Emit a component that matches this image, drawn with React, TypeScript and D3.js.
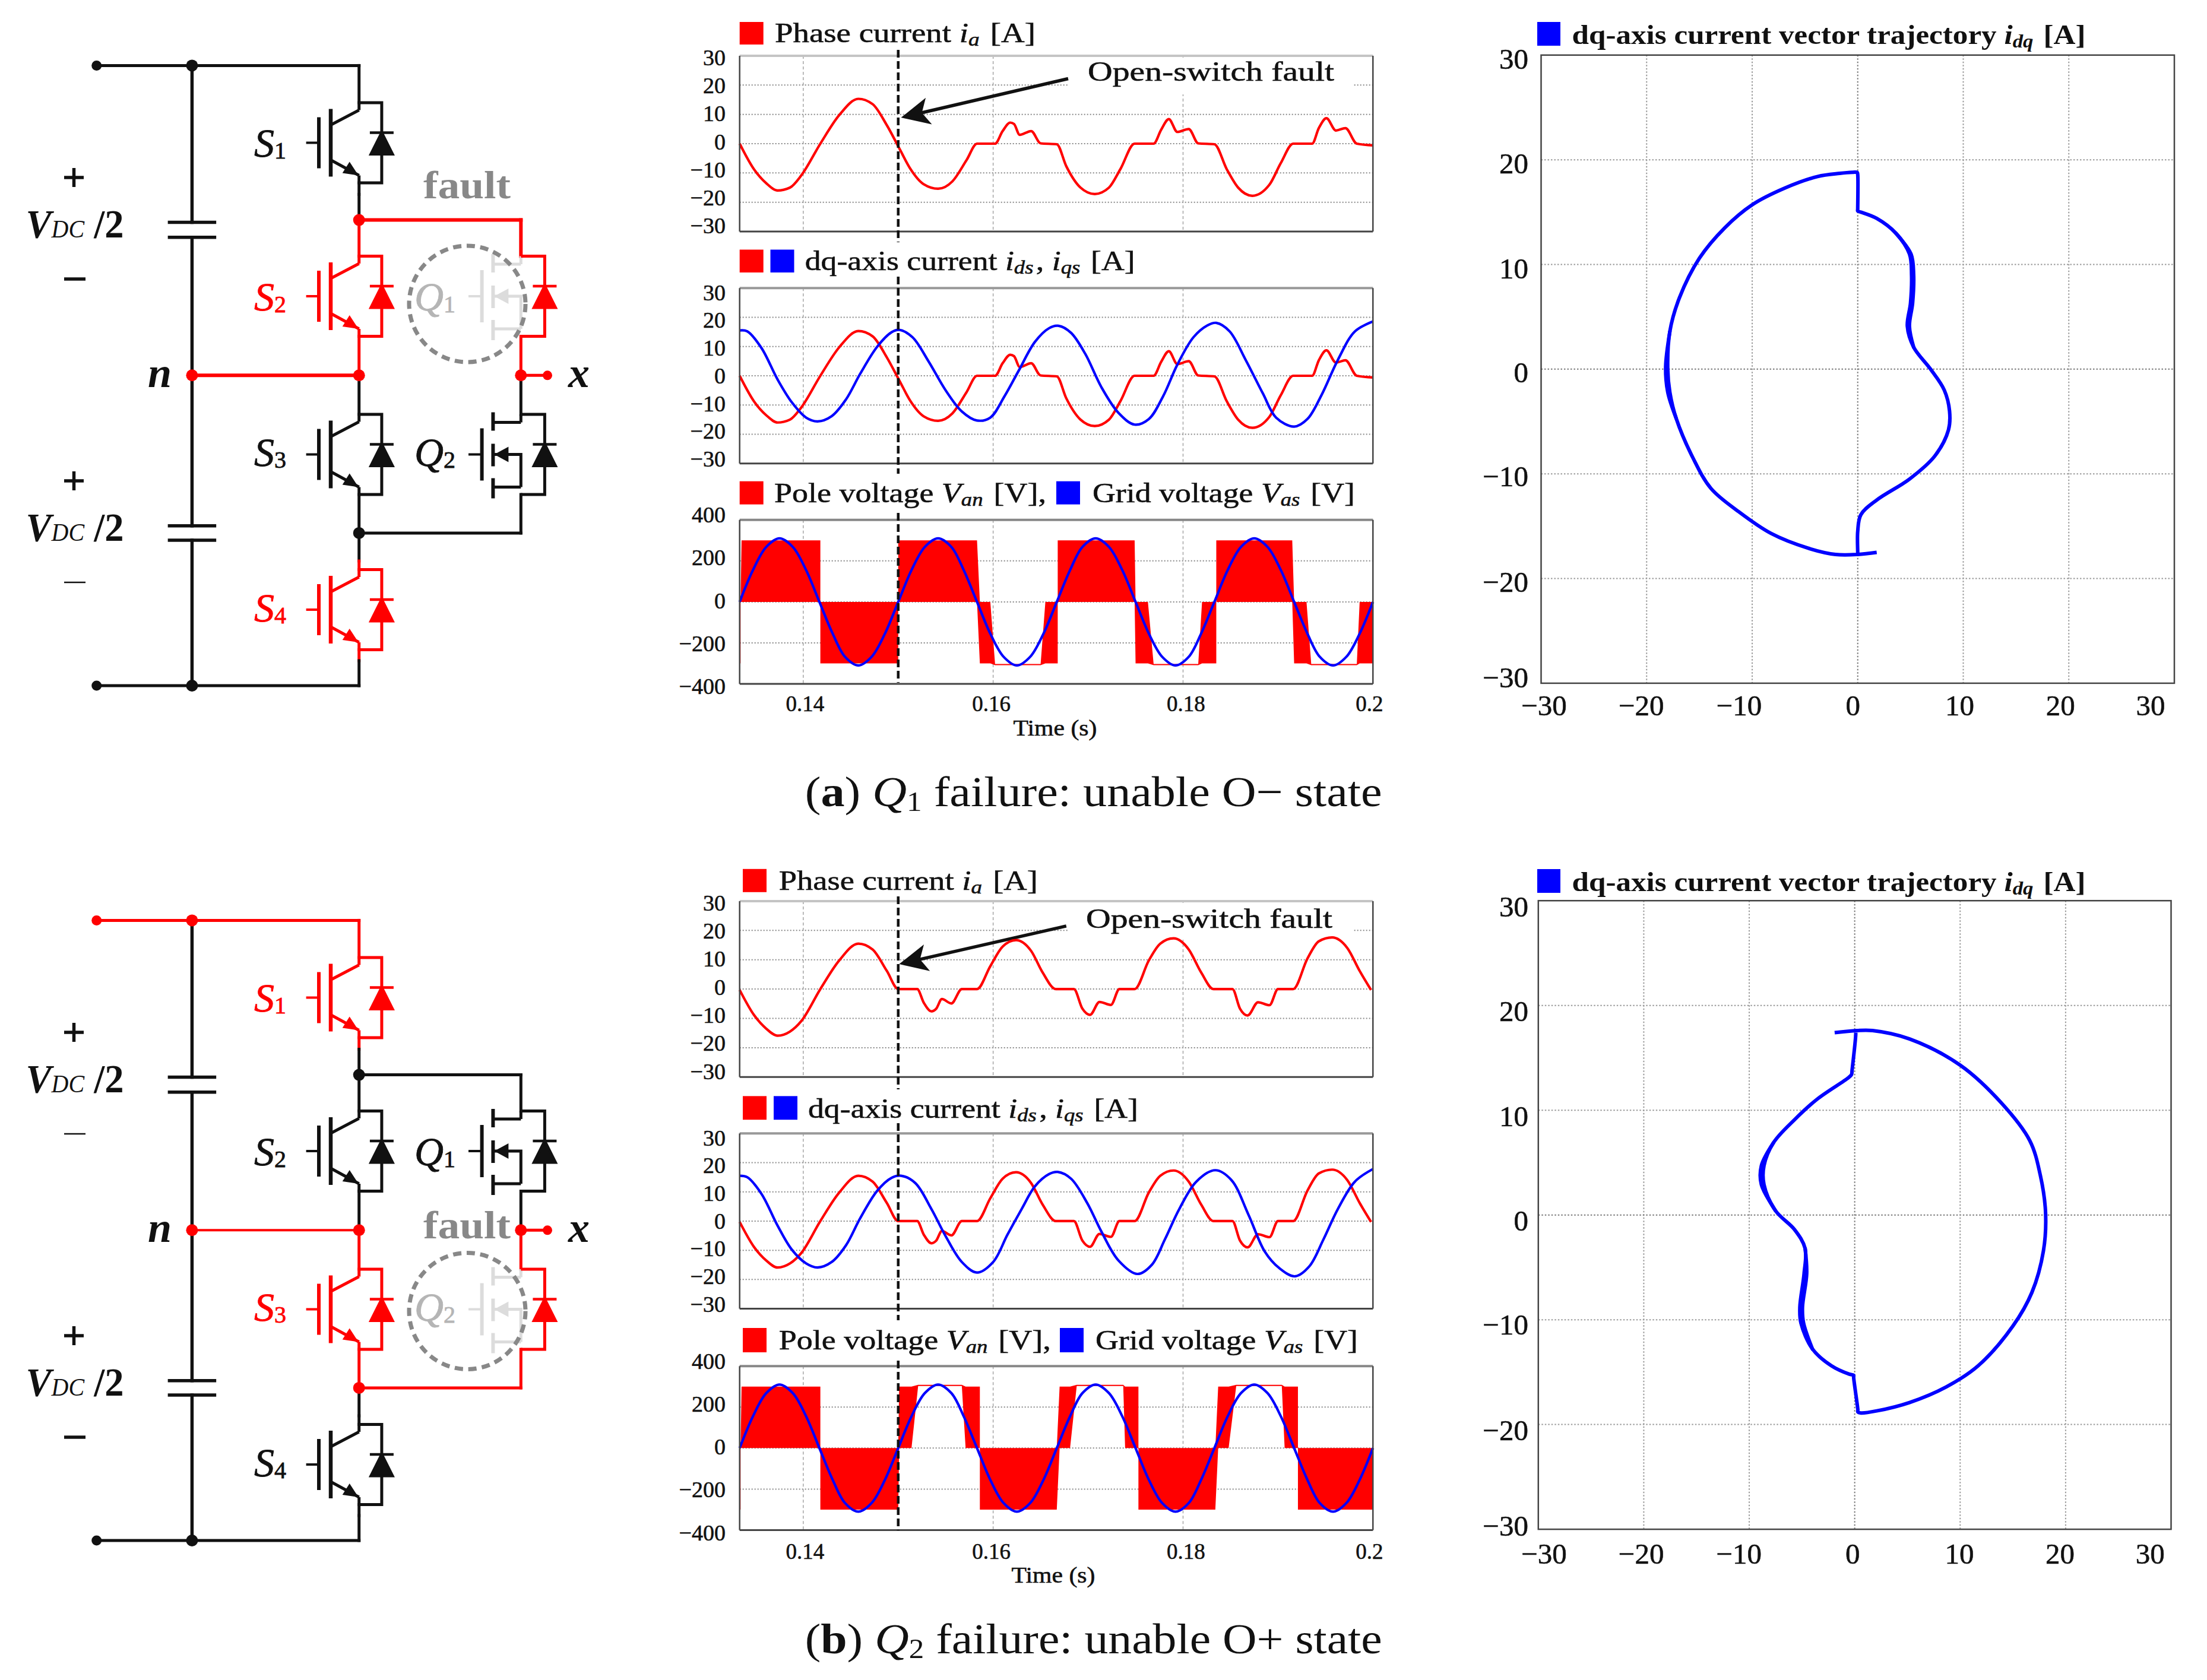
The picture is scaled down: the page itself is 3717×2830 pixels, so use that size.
import * as d3 from 'd3'
import type { ReactNode } from 'react'

const RED = '#ff0000'
const BLUE = '#0000ff'
const BLACK = '#111111'
const FADED = '#dcdcdc'
const SERIF = '"Liberation Serif", serif'

// ---- values ----

const timeTicks = [0.14, 0.16, 0.18, 0.2]
const timeTickLabels = ['0.14', '0.16', '0.18', '0.2']
const timeTickNudge = [3, -3, 5, -6]
const currentTicks = [30, 20, 10, 0, -10, -20, -30]
const voltageTicks = [400, 200, 0, -200, -400]
const vectorTicks = [-30, -20, -10, 0, 10, 20, 30]
const vectorXNudge = [5, -9, -22, -8, -6, -14, -40]
const vectorYNudge = [-10, 5, 4, 5, 6, 5.5, 6]
const faultTime = 0.15

const phaseTimeA = [0.1333, 0.1348, 0.1361, 0.1373, 0.1386, 0.1398, 0.1418, 0.1438, 0.1458, 0.1473, 0.1488, 0.1501, 0.1513, 0.1527, 0.1542, 0.1557, 0.1572, 0.1583, 0.1602, 0.161, 0.1618, 0.1622, 0.1628, 0.164, 0.165, 0.1667, 0.1677, 0.1692, 0.1707, 0.1722, 0.1734, 0.1749, 0.1769, 0.1777, 0.1785, 0.1794, 0.1806, 0.1816, 0.1833, 0.1846, 0.1858, 0.1873, 0.1891, 0.1903, 0.1916, 0.1936, 0.1943, 0.1951, 0.1961, 0.1971, 0.1983, 0.2]
const phaseCurrentA = [0, -8.7, -13.5, -16, -15, -10.8, 0, 9.8, 15.3, 13.5, 6.3, -1.5, -8.7, -13.9, -15.4, -12.9, -5.6, 0, 0, 4.3, 7.2, 6.7, 3, 4.3, 0.1, -0.2, -7.7, -15, -17.2, -15, -8.7, 0, 0, 4.8, 8.4, 4, 5, 0.1, -0.2, -8.7, -15, -17.8, -14, -6.6, 0, 0, 5.3, 8.7, 4.5, 5.3, 0, -0.6]
const iqTimeA = [0.1333, 0.1341, 0.1356, 0.1373, 0.1388, 0.1403, 0.1415, 0.143, 0.1445, 0.146, 0.1478, 0.1493, 0.1501, 0.1515, 0.1532, 0.155, 0.1567, 0.1583, 0.1597, 0.1612, 0.1627, 0.1644, 0.1659, 0.1669, 0.1682, 0.1697, 0.1714, 0.1732, 0.1749, 0.1764, 0.1779, 0.1794, 0.1811, 0.1826, 0.1835, 0.1849, 0.1866, 0.1884, 0.1898, 0.1917, 0.1931, 0.1946, 0.1963, 0.1981, 0.2]
const iqCurrentA = [15.5, 15.2, 9.5, -1.3, -9.1, -14.3, -15.6, -13.8, -8.1, 0.7, 10, 14.9, 15.7, 13.2, 4.9, -5, -12.2, -15.3, -14.3, -7, 1.8, 11.6, 16.3, 17.1, 14.7, 7.5, -3.9, -12.7, -16.7, -14.8, -7, 3.8, 13.2, 17.3, 18.1, 15.2, 5.4, -6, -14.3, -17.4, -14.8, -6.5, 5.4, 15.2, 18.6]

const phaseTimeB = [0.1333, 0.1348, 0.1361, 0.1373, 0.1386, 0.1398, 0.1418, 0.1438, 0.1458, 0.1473, 0.1488, 0.15, 0.152, 0.1527, 0.1535, 0.154, 0.1546, 0.1556, 0.1567, 0.1583, 0.1597, 0.161, 0.1624, 0.164, 0.1652, 0.1666, 0.1685, 0.1694, 0.1702, 0.1712, 0.1724, 0.1733, 0.1749, 0.1764, 0.1776, 0.179, 0.1806, 0.1819, 0.1832, 0.1852, 0.186, 0.1868, 0.1879, 0.1891, 0.19, 0.1916, 0.1931, 0.1943, 0.1957, 0.1973, 0.1986, 0.1998]
const phaseCurrentB = [-0.3, -8.8, -13.5, -15.9, -14.5, -10.9, 0, 9.8, 15.5, 13.5, 6.2, 0, 0, -4.7, -7.6, -6.7, -3.4, -4.9, 0, 0, 7.8, 14.5, 16.7, 13, 5.7, 0, 0, -6.7, -8.8, -4.4, -5.4, 0, 0, 9.8, 15.5, 17.3, 13.5, 5.7, 0, 0, -6.7, -9, -4.5, -5.5, 0, 0, 10.4, 16.3, 17.6, 14, 6.2, -0.3]
const iqTimeB = [0.1333, 0.1341, 0.1356, 0.1373, 0.1388, 0.1403, 0.1415, 0.143, 0.1445, 0.146, 0.1478, 0.1493, 0.1503, 0.1518, 0.1535, 0.155, 0.1567, 0.1583, 0.16, 0.1615, 0.163, 0.1644, 0.1659, 0.1668, 0.1682, 0.1699, 0.1714, 0.1732, 0.1752, 0.1767, 0.1781, 0.1796, 0.1814, 0.1834, 0.1851, 0.1869, 0.1886, 0.1901, 0.1918, 0.1933, 0.1948, 0.1963, 0.1981, 0.2]
const iqCurrentB = [15.5, 15, 9.3, -1.6, -9.8, -14.5, -15.9, -14, -8.3, 1, 10.4, 14.8, 15.5, 13, 4.1, -5.2, -14, -17.6, -14, -4.7, 4.1, 11.9, 16.1, 16.8, 14.5, 6.2, -3.6, -13.5, -18.1, -15, -6.2, 4.1, 13.5, 17.4, 14, 2.1, -10.4, -16, -18.9, -15.5, -6.2, 4.1, 13.5, 17.8]

const gridTime = [0.1333, 0.1347, 0.1361, 0.1375, 0.1389, 0.1403, 0.1417, 0.1431, 0.1444, 0.1458, 0.1472, 0.1486, 0.15, 0.1514, 0.1528, 0.1542, 0.1556, 0.1569, 0.1583, 0.1597, 0.1611, 0.1625, 0.1639, 0.1653, 0.1667, 0.1681, 0.1694, 0.1708, 0.1722, 0.1736, 0.175, 0.1764, 0.1778, 0.1792, 0.1806, 0.1819, 0.1833, 0.1847, 0.1861, 0.1875, 0.1889, 0.1903, 0.1917, 0.1931, 0.1944, 0.1958, 0.1972, 0.1986, 0.2]
const gridVoltage = [0, 155, 268, 310, 268, 155, 0, -155, -268, -310, -268, -155, 0, 155, 268, 310, 268, 155, 0, -155, -268, -310, -268, -155, 0, 155, 268, 310, 268, 155, 0, -155, -268, -310, -268, -155, 0, 155, 268, 310, 268, 155, 0, -155, -268, -310, -268, -155, 0]

const poleTimeA = [0.1333, 0.1334, 0.1334, 0.1335, 0.1418, 0.1418, 0.15, 0.15, 0.1583, 0.1586, 0.1597, 0.1602, 0.165, 0.1655, 0.1668, 0.1668, 0.1749, 0.175, 0.1763, 0.1769, 0.1816, 0.182, 0.1835, 0.1835, 0.1915, 0.1917, 0.193, 0.1935, 0.1983, 0.1986, 0.2]
const poleHighA = [0, 0, 0, 300, 300, 0, 0, 300, 300, 0, 0, -303, -303, 0, 0, 300, 300, 0, 0, -303, -303, 0, 0, 300, 300, 0, 0, -303, -303, 0, 0]
const poleLowA = [-300, -300, 0, 0, 0, -300, -300, 0, 0, -300, -300, -309, -309, -300, -300, 0, 0, -300, -300, -309, -309, -300, -300, 0, 0, -300, -300, -309, -309, -300, -300]
const poleTimeB = [0.1333, 0.1334, 0.1334, 0.1335, 0.1418, 0.1418, 0.15, 0.1501, 0.1514, 0.1521, 0.1567, 0.1571, 0.1586, 0.1586, 0.1667, 0.167, 0.1681, 0.1688, 0.1737, 0.1739, 0.1753, 0.1753, 0.1834, 0.1837, 0.1848, 0.1856, 0.1904, 0.1907, 0.1921, 0.1921, 0.2]
const poleHighB = [0, 0, 0, 300, 300, 0, 0, 300, 300, 309, 309, 300, 300, 0, 0, 300, 300, 309, 309, 300, 300, 0, 0, 300, 300, 309, 309, 300, 300, 0, 0]
const poleLowB = [-300, -300, 0, 0, 0, -300, -300, 0, 0, 303, 303, 0, 0, -300, -300, 0, 0, 303, 303, 0, 0, -300, -300, 0, 0, 303, 303, 0, 0, -300, -300]

const vectorXA = [1.8, 0, -2.1, -4.7, -8.2, -11.3, -13.9, -15.6, -17.2, -17.8, -18, -17.8, -16.9, -15, -12.6, -10, -6.9, -3.8, -1.7, -0.5, -0.05, 0, 0, 0, 0.3, 1.8, 3.6, 4.9, 5.1, 5, 4.7, 5.3, 6.9, 8.2, 8.7, 8.6, 7.3, 4.9, 1.8, 0.3, 0, 0, 0]
const vectorYA = [-17.5, -17.7, -17.7, -17.1, -15.7, -13.6, -11.4, -8.5, -4.7, -2.2, 0, 3.6, 6.8, 10.6, 13.5, 15.7, 17.3, 18.4, 18.7, 18.8, 18.8, 18.6, 15.3, 15.1, 15, 14.4, 13, 11, 9, 6.3, 4.1, 2.1, 0, -2, -4, -5.8, -8.3, -10.5, -12.5, -13.9, -15.5, -17.5, -17.7]
const bundleXA1 = [3.6, 5.05, 5.3, 5.2, 4.9, 5.3]
const bundleYA1 = [13, 11, 9, 6.3, 4.1, 2.1]
const bundleXA2 = [-17.2, -18, -18.2, -17.8]
const bundleYA2 = [-4.7, -2.2, 0.2, 3.6]
const vectorXB = [-1.9, 0.2, 1.7, 5.2, 10, 13.9, 16.6, 17.6, 18.1, 17.9, 16.8, 15, 11.7, 8.7, 5.2, 2.1, 0.6, 0.3, 0.3, -0.1, -0.1, -0.5, -2.2, -4, -5.1, -5.2, -4.8, -4.7, -5.7, -7.5, -8.6, -8.6, -7.7, -5.7, -3.5, -0.6, -0.3, -0.25, 0.1, 0.1]
const vectorYB = [17.4, 17.6, 17.6, 16.8, 14.3, 10.7, 7.1, 3.8, 0.2, -3.4, -7.4, -10.6, -14.4, -16.4, -17.9, -18.7, -18.9, -18.8, -18.6, -15.5, -15.3, -15.2, -14.4, -12.8, -10.3, -8.8, -5.6, -3.2, -1.4, 0.4, 2.9, 4.7, 6.9, 9.1, 11.1, 13.1, 13.4, 13.8, 17.2, 17.4]
const bundleXB1 = [-4.7, -4.55, -4.95, -4.85, -4]
const bundleYB1 = [-3.2, -5.6, -8.8, -10.3, -12.8]
const bundleXB2 = [-7.5, -8.85, -8.85, -7.7]
const bundleYB2 = [0.4, 2.9, 4.7, 6.9]

// ---- layout ----

const timeX = d3.scaleLinear().domain([0.1333, 0.2]).range([1245.7, 2312.3])

const sub = (s: string, d = 6) => (
  <>
    <tspan fontStyle="italic" fontSize="0.68em" dy={d}>{s}</tspan>
    <tspan dy={-d}>{'\u200a'}</tspan>
  </>
)

function Squares({ xs, y, h, colors }: { xs: number[]; y: number; h: number; colors: string[] }) {
  return <>{xs.map((x, i) => <rect key={i} x={x} y={y} width={40} height={h} fill={colors[i]} />)}</>
}

function Label({ x, y, w, size = 47, weight, children }: { x: number; y: number; w: number; size?: number; weight?: string; children: ReactNode }) {
  return (
    <text x={x} y={y} fontFamily={SERIF} fontSize={size} fontWeight={weight} fill={BLACK} stroke={BLACK} strokeWidth={weight ? 0 : 0.6} textLength={w} lengthAdjust="spacingAndGlyphs" xmlSpace="preserve">
      {children}
    </text>
  )
}

interface PlotProps {
  top: number
  bottom: number
  domain: [number, number]
  ticks: number[]
  inset: [number, number]
  edge?: string
  children: ReactNode
}

function TimePlot({ top, bottom, domain, ticks, inset, edge = '#444', children }: PlotProps) {
  const y = d3.scaleLinear().domain(domain).range([bottom, top])
  const labelY = d3.scaleLinear().domain(domain).range([bottom + inset[1], top + inset[0]])
  const [x0, x1] = timeX.range()
  return (
    <g>
      {ticks.slice(1, -1).map((t) => (
        <line key={t} x1={x0} x2={x1} y1={y(t)} y2={y(t)} stroke="#888" strokeWidth={2} strokeDasharray="2 3" />
      ))}
      {timeTicks.slice(0, 3).map((t) => (
        <line key={t} x1={timeX(t)} x2={timeX(t)} y1={top} y2={bottom} stroke="#aaa" strokeWidth={1.6} strokeDasharray="5 4" />
      ))}
      {children}
      <line x1={x0} x2={x1} y1={top} y2={top} stroke={edge} strokeWidth={4} />
      <line x1={x0} x2={x1} y1={bottom} y2={bottom} stroke="#444" strokeWidth={3} />
      <line x1={x0} x2={x0} y1={top} y2={bottom} stroke="#444" strokeWidth={2.5} />
      <line x1={x1} x2={x1} y1={top} y2={bottom} stroke="#444" strokeWidth={2.5} />
      {ticks.map((t) => (
        <text key={t} x={1222} y={labelY(t)} dy="0.35em" textAnchor="end" fontFamily={SERIF} fontSize={38} fill={BLACK} stroke={BLACK} strokeWidth={0.6}>
          {String(t).replace('-', '\u2212')}
        </text>
      ))}
    </g>
  )
}

function series(xs: number[], ys: number[], x: (v: number) => number, y: (v: number) => number, curve: d3.CurveFactory) {
  const line = d3.line<number>().x((i) => x(xs[i])).y((i) => y(ys[i])).curve(curve)
  return line(d3.range(xs.length)) ?? ''
}

function Wave({ xs, ys, top, bottom, domain, color, curve = d3.curveMonotoneX }: { xs: number[]; ys: number[]; top: number; bottom: number; domain: [number, number]; color: string; curve?: d3.CurveFactory }) {
  const y = d3.scaleLinear().domain(domain).range([bottom, top])
  return <path d={series(xs, ys, timeX, y, curve)} fill="none" stroke={color} strokeWidth={4.2} />
}

function PoleBand({ xs, hi, lo, top, bottom }: { xs: number[]; hi: number[]; lo: number[]; top: number; bottom: number }) {
  const y = d3.scaleLinear().domain([-400, 400]).range([bottom, top])
  const area = d3.area<number>().x((i) => timeX(xs[i])).y0((i) => y(lo[i])).y1((i) => y(hi[i]))
  return <path d={area(d3.range(xs.length)) ?? ''} fill={RED} />
}

function FaultArrow({ top, bottom, tail, tip }: { top: number; bottom: number; tail: [number, number]; tip: [number, number] }) {
  const y = d3.scaleLinear().domain([-30, 30]).range([bottom, top])
  const [ax, ay] = [timeX(tail[0]), y(tail[1])]
  const [bx, by] = [timeX(tip[0]), y(tip[1])]
  const len = Math.hypot(ax - bx, ay - by)
  const [ux, uy] = [(ax - bx) / len, (ay - by) / len]
  const at = (along: number, side: number) => `${bx + ux * along - uy * side},${by + uy * along + ux * side}`
  return (
    <g>
      <rect x={1800} y={top + 3} width={478} height={62} fill="#fff" />
      <line x1={ax} y1={ay} x2={bx + ux * 30} y2={by + uy * 30} stroke={BLACK} strokeWidth={5.5} />
      <polygon points={[at(0, 0), at(48, 23), at(36, 0), at(48, -23)].join(' ')} fill={BLACK} />
    </g>
  )
}

function Fault({ spans }: { spans: [number, number][] }) {
  return (
    <>
      {spans.map(([a, b], i) => (
        <line key={i} x1={timeX(faultTime)} x2={timeX(faultTime)} y1={a} y2={b} stroke={BLACK} strokeWidth={4.5} strokeDasharray="13 6" />
      ))}
    </>
  )
}

function XTicks({ y, title, titleX, titleY }: { y: number; title: string; titleX: number; titleY: number }) {
  return (
    <g stroke={BLACK} strokeWidth={0.6}>
      {timeTicks.map((t, i) => (
        <text key={t} x={timeX(t) + timeTickNudge[i]} y={y} textAnchor="middle" fontFamily={SERIF} fontSize={37} fill={BLACK}>
          {timeTickLabels[i]}
        </text>
      ))}
      <text x={titleX} y={titleY} textAnchor="middle" fontFamily={SERIF} fontSize={37} fill={BLACK} textLength={141} lengthAdjust="spacingAndGlyphs">
        {title}
      </text>
    </g>
  )
}

function VectorPlot({ left, right, top, bottom, xs, ys, bundles, legendY, labelY, nudge }: { left: number; right: number; top: number; bottom: number; xs: number[]; ys: number[]; bundles: [number[], number[]][]; legendY: number; labelY: number; nudge: [number, number] }) {
  const x = d3.scaleLinear().domain([-30, 30]).range([left, right])
  const y = d3.scaleLinear().domain([-30, 30]).range([bottom, top])
  const curve = d3.curveCatmullRom.alpha(0.5)
  return (
    <g>
      <rect x={2589} y={legendY} width={39} height={40} fill={BLUE} />
      <Label x={2647.5} y={legendY + 37} w={865} size={47} weight="bold">
        dq-axis current vector trajectory <tspan fontStyle="italic">i</tspan>{sub('dq')}{' [A]'}
      </Label>
      {vectorTicks.slice(1, -1).map((t) => (
        <g key={t} stroke={t === 0 ? '#777' : '#999'} strokeWidth={2} strokeDasharray="2.5 3">
          <line x1={x(t)} x2={x(t)} y1={top} y2={bottom} />
          <line x1={left} x2={right} y1={y(t)} y2={y(t)} />
        </g>
      ))}
      <path d={series(xs, ys, x, y, curve)} fill="none" stroke={BLUE} strokeWidth={6} strokeLinejoin="round" />
      {bundles.map(([bx, by], i) => (
        <path key={i} d={series(bx, by, x, y, curve)} fill="none" stroke={BLUE} strokeWidth={6} strokeLinecap="round" />
      ))}
      <rect x={left} y={top} width={right - left} height={bottom - top} fill="none" stroke="#444" strokeWidth={2.5} />
      {vectorTicks.map((t, i) => (
        <g key={t} fontFamily={SERIF} fontSize={49} fill={BLACK} stroke={BLACK} strokeWidth={0.6}>
          <text x={x(t) + vectorXNudge[i] + nudge[0]} y={labelY} textAnchor="middle">{String(t).replace('-', '\u2212')}</text>
          <text x={2574} y={y(t) + vectorYNudge[i] + nudge[1]} dy="0.35em" textAnchor="end">{String(t).replace('-', '\u2212')}</text>
        </g>
      ))}
    </g>
  )
}

// ---- circuit ----

const swX = 604.7
const rightX = 877.3

function Diode({ x, cy, color }: { x: number; cy: number; color: string }) {
  return (
    <g>
      <line x1={x - 20} x2={x + 20} y1={cy - 17} y2={cy - 17} stroke={color} strokeWidth={4.5} />
      <polygon points={`${x},${cy - 17} ${x - 18},${cy + 19} ${x + 18},${cy + 19}`} fill={color} />
    </g>
  )
}

function Igbt({ cy, color }: { cy: number; color: string }) {
  const d = 642.9
  return (
    <g stroke={color} strokeWidth={5} fill="none">
      <line x1={515.6} x2={537} y1={cy} y2={cy} strokeWidth={4} />
      <line x1={537} x2={537} y1={cy - 43} y2={cy + 43} strokeWidth={6} />
      <line x1={557} x2={557} y1={cy - 57} y2={cy + 57} strokeWidth={6.5} />
      <line x1={557} y1={cy - 30} x2={swX} y2={cy - 55} />
      <line x1={557} y1={cy + 29} x2={swX} y2={cy + 55} />
      <polygon points={`${swX - 1},${cy + 55} ${swX - 28},${cy + 51} ${swX - 16},${cy + 32}`} fill={color} stroke="none" />
      <polyline points={`${swX},${cy - 55} ${swX},${cy - 67.5} ${d},${cy - 67.5} ${d},${cy + 67.5} ${swX},${cy + 67.5} ${swX},${cy + 55}`} />
      <Diode x={d} cy={cy} color={color} />
    </g>
  )
}

function Mosfet({ cy, color, diode }: { cy: number; color: string; diode: string }) {
  const c = 830.4
  const d = 917.4
  return (
    <g fill="none" strokeWidth={5}>
      <g stroke={color}>
        <line x1={789} x2={811.6} y1={cy} y2={cy} strokeWidth={4} />
        <line x1={811.6} x2={811.6} y1={cy - 44} y2={cy + 44} strokeWidth={6} />
        <line x1={c} x2={c} y1={cy - 71} y2={cy - 40} strokeWidth={6} />
        <line x1={c} x2={c} y1={cy - 18} y2={cy + 20} strokeWidth={6} />
        <line x1={c} x2={c} y1={cy + 40} y2={cy + 74} strokeWidth={6} />
        <line x1={c} x2={rightX} y1={cy - 54} y2={cy - 54} />
        <line x1={c} x2={rightX} y1={cy + 55} y2={cy + 55} />
        <polyline points={`${c},${cy} ${rightX},${cy} ${rightX},${cy + 55}`} />
        <line x1={rightX} x2={rightX} y1={cy - 67.5} y2={cy - 54} />
        <polygon points={`${c + 2},${cy} ${c + 26},${cy - 13} ${c + 26},${cy + 13}`} fill={color} stroke="none" />
      </g>
      <g stroke={diode}>
        <polyline points={`${rightX},${cy - 67.5} ${d},${cy - 67.5} ${d},${cy + 67.5} ${rightX},${cy + 67.5}`} />
        <Diode x={d} cy={cy} color={diode} />
      </g>
    </g>
  )
}

function Device({ x, y, letter, index, color }: { x: number; y: number; letter: string; index: string; color: string }) {
  return (
    <text x={x} y={y} fontFamily={SERIF} fontSize={68} fill={color} stroke={color} strokeWidth={0.8}>
      <tspan fontStyle="italic">{letter}</tspan>
      <tspan fontSize={40} dy={3}>{index}</tspan>
    </text>
  )
}

function DcLabel({ y, sign }: { y: number; sign: number }) {
  const plusY = y - 101
  const minusY = y + 70
  return (
    <g>
      <line x1={108} x2={141} y1={plusY} y2={plusY} stroke={BLACK} strokeWidth={5.5} />
      <line x1={124.5} x2={124.5} y1={plusY - 16} y2={plusY + 16} stroke={BLACK} strokeWidth={5.5} />
      <line x1={108} x2={144} y1={minusY} y2={minusY} stroke={BLACK} strokeWidth={sign} />
      <text x={43.5} y={y} fontFamily={SERIF} fontSize={68} fill={BLACK} textLength={165} lengthAdjust="spacingAndGlyphs">
        <tspan fontStyle="italic" fontWeight="bold">V</tspan>
        <tspan fontStyle="italic" fontSize={42}>DC</tspan>
        <tspan fontWeight="bold"> /2</tspan>
      </text>
    </g>
  )
}

interface Palette {
  rail: string; s1: string; s1Out: string; node1: string; s2In: string; s2: string; s2Out: string; nWidth: number
  s3In: string; s3: string; s3Out: string; node3: string; s4In: string; s4: string; s4Out: string
  rightTop: string; q1: string; q1Diode: string; q1Out: string; q2In: string; q2: string; q2Diode: string; q2Out: string
}

function Circuit({ dy, p, faulty, faultY }: { dy: number; p: Palette; faulty: 1 | 2; faultY: number }) {
  const top = 110.4 + dy
  const node1 = 370.6 + dy
  const n = 632.3 + dy
  const node3 = 897.9 + dy
  const bottom = 1155 + dy
  const [c1, c2, c3, c4] = [240.5 + dy, 499 + dy, 765.5 + dy, 1027 + dy]
  const busX = 323.4
  const wire = (x1: number, y1: number, x2: number, y2: number, color: string, w = 5) => (
    <line x1={x1} y1={y1} x2={x2} y2={y2} stroke={color} strokeWidth={w} strokeLinecap="square" />
  )
  const dot = (x: number, y: number, color: string, r = 10) => <circle cx={x} cy={y} r={r} fill={color} />
  const plate = (y: number) => wire(busX - 38, y, busX + 38, y, BLACK, 5.5)
  const labelColor = (on: string) => (on === RED ? RED : BLACK)
  return (
    <g>
      {wire(busX, top, busX, 374.4 + dy, BLACK, 5.5)}
      {wire(busX, 399.7 + dy, busX, 885.7 + dy, BLACK, 5.5)}
      {wire(busX, 910 + dy, busX, bottom, BLACK, 5.5)}
      {plate(374.4 + dy)}{plate(399.7 + dy)}{plate(885.7 + dy)}{plate(910 + dy)}
      {wire(162.7, top, swX, top, p.rail)}
      {wire(swX, top, swX, c1 - 67.5, p.rail)}
      {wire(162.7, bottom, swX, bottom, BLACK)}
      {wire(swX, c1 + 67.5, swX, c1 + 87, p.s1)}
      {wire(swX, c1 + 87, swX, node1, p.s1Out)}
      {wire(swX, node1, swX, c2 - 67.5, p.s2In)}
      {wire(swX, c2 + 67.5, swX, n, p.s2Out)}
      {wire(busX, n, swX, n, RED, p.nWidth)}
      {wire(swX, n, swX, c3 - 67.5, p.s3In)}
      {wire(swX, c3 + 67.5, swX, node3, p.s3Out)}
      {wire(swX, node3, swX, c4 - 82, p.s4In)}
      {wire(swX, c4 - 82, swX, c4 - 67.5, p.s4)}
      {wire(swX, c4 + 67.5, swX, c4 + 86, p.s4)}
      {wire(swX, c4 + 86, swX, bottom, p.s4Out)}
      {wire(swX, node1, rightX, node1, p.rightTop, p.rightTop === RED ? 6 : 5)}
      {wire(rightX, node1, rightX, c2 - 67.5, p.rightTop, p.rightTop === RED ? 6 : 5)}
      {wire(rightX, c2 + 67.5, rightX, n, p.q1Out)}
      {wire(rightX, n, 922, n, RED)}
      {wire(rightX, n, rightX, c3 - 67.5, p.q2In)}
      {wire(rightX, c3 + 67.5, rightX, node3, p.q2Out)}
      {wire(swX, node3, rightX, node3, p.q2Out)}
      <Igbt cy={c1} color={p.s1} />
      <Igbt cy={c2} color={p.s2} />
      <Igbt cy={c3} color={p.s3} />
      <Igbt cy={c4} color={p.s4} />
      <Mosfet cy={c2} color={p.q1} diode={p.q1Diode} />
      <Mosfet cy={c3} color={p.q2} diode={p.q2Diode} />
      {dot(162.7, top, p.rail, 8.5)}{dot(busX, top, p.rail)}
      {dot(162.7, bottom, BLACK, 8.5)}{dot(busX, bottom, BLACK)}
      {dot(swX, node1, p.node1)}{dot(busX, n, RED)}{dot(swX, n, RED)}
      {dot(rightX, n, RED)}{dot(922, n, RED, 8)}{dot(swX, node3, p.node3)}
      <Device x={428} y={264 + dy} letter="S" index="1" color={labelColor(p.s1)} />
      <Device x={428} y={523 + dy} letter="S" index="2" color={labelColor(p.s2)} />
      <Device x={428} y={785 + dy} letter="S" index="3" color={labelColor(p.s3)} />
      <Device x={428} y={1047 + dy} letter="S" index="4" color={labelColor(p.s4)} />
      <Device x={698} y={523 + dy} letter="Q" index="1" color={faulty === 1 ? '#b5b5b5' : BLACK} />
      <Device x={698} y={785 + dy} letter="Q" index="2" color={faulty === 2 ? '#b5b5b5' : BLACK} />
      <circle cx={787} cy={(faulty === 1 ? 512 : 768.5) + dy} r={98} fill="none" stroke="#888" strokeWidth={7} strokeDasharray="14 9" />
      <text x={713} y={faultY} fontFamily={SERIF} fontWeight="bold" fontSize={66} fill="#888" textLength={147} lengthAdjust="spacingAndGlyphs">fault</text>
      <text x={249} y={652 + dy} fontFamily={SERIF} fontStyle="italic" fontWeight="bold" fontSize={72} fill={BLACK}>n</text>
      <text x={957} y={652 + dy} fontFamily={SERIF} fontStyle="italic" fontWeight="bold" fontSize={72} fill={BLACK}>x</text>
      <DcLabel y={400 + dy} sign={dy ? 2.5 : 5.5} />
      <DcLabel y={911 + dy} sign={dy ? 5.5 : 2.5} />
    </g>
  )
}

const paletteA: Palette = {
  rail: BLACK, s1: BLACK, s1Out: BLACK, node1: RED, s2In: RED, s2: RED, s2Out: RED, nWidth: 6,
  s3In: BLACK, s3: BLACK, s3Out: BLACK, node3: BLACK, s4In: BLACK, s4: RED, s4Out: BLACK,
  rightTop: RED, q1: FADED, q1Diode: RED, q1Out: RED, q2In: BLACK, q2: BLACK, q2Diode: BLACK, q2Out: BLACK,
}
const paletteB: Palette = {
  rail: RED, s1: RED, s1Out: BLACK, node1: BLACK, s2In: BLACK, s2: BLACK, s2Out: BLACK, nWidth: 4,
  s3In: RED, s3: RED, s3Out: RED, node3: RED, s4In: BLACK, s4: BLACK, s4Out: BLACK,
  rightTop: BLACK, q1: BLACK, q1Diode: BLACK, q1Out: BLACK, q2In: RED, q2: FADED, q2Diode: RED, q2Out: RED,
}

function Caption({ y, tag, idx, rest }: { y: number; tag: string; idx: string; rest: string }) {
  return (
    <text x={1355.7} y={y} fontFamily={SERIF} fontSize={72} fill={BLACK} textLength={972} lengthAdjust="spacingAndGlyphs" xmlSpace="preserve">
      (<tspan fontWeight="bold">{tag}</tspan>) <tspan fontStyle="italic">Q</tspan><tspan fontSize={46} dy={8}>{idx}</tspan><tspan dy={-8}> {rest}</tspan>
    </text>
  )
}

export default function App() {
  const smooth = d3.curveCatmullRom.alpha(0.5)
  return (
    <svg width={3717} height={2830} viewBox="0 0 3717 2830" style={{ position: 'absolute', left: 0, top: 0, background: '#fff' }}>
      <Circuit dy={0} p={paletteA} faulty={1} faultY={334} />
      <Circuit dy={1440} p={paletteB} faulty={2} faultY={2086} />

      {/* (a) time plots */}
      <Squares xs={[1245.7]} y={37} h={38} colors={[RED]} />
      <Label x={1305} y={71} w={439}>Phase current <tspan fontStyle="italic">i</tspan>{sub('a')}{' [A]'}</Label>
      <TimePlot top={94} bottom={390} domain={[-30, 30]} ticks={currentTicks} inset={[2.5, -10]} edge="#c4c4c4">
        <FaultArrow top={94} bottom={390} tail={[0.1679, 22.2]} tip={[0.1503, 8.9]} />
        <Wave xs={phaseTimeA} ys={phaseCurrentA} top={94} bottom={390} domain={[-30, 30]} color={RED} />
      </TimePlot>
      <Label x={1832} y={136} w={415}>Open-switch fault</Label>

      <Squares xs={[1245.7, 1297.5]} y={420.5} h={38.5} colors={[RED, BLUE]} />
      <Label x={1355.7} y={454.7} w={556}>dq-axis current <tspan fontStyle="italic">i</tspan>{sub('ds')}, <tspan fontStyle="italic">i</tspan>{sub('qs')}{' [A]'}</Label>
      <TimePlot top={485.3} bottom={780.7} domain={[-30, 30]} ticks={currentTicks} inset={[7, -8]} edge="#999">
        <Wave xs={phaseTimeA} ys={phaseCurrentA} top={485.3} bottom={780.7} domain={[-30, 30]} color={RED} />
        <Wave xs={iqTimeA} ys={iqCurrentA} top={485.3} bottom={780.7} domain={[-30, 30]} color={BLUE} curve={smooth} />
      </TimePlot>

      <Squares xs={[1245.7, 1779]} y={810.7} h={39} colors={[RED, BLUE]} />
      <Label x={1304} y={846} w={458}>Pole voltage <tspan fontStyle="italic">V</tspan>{sub('an')}{' [V],'}</Label>
      <Label x={1840} y={846} w={442}>Grid voltage <tspan fontStyle="italic">V</tspan>{sub('as')}{' [V]'}</Label>
      <TimePlot top={875.8} bottom={1152} domain={[-400, 400]} ticks={voltageTicks} inset={[-9, 4]} edge="#888">
        <PoleBand xs={poleTimeA} hi={poleHighA} lo={poleLowA} top={875.8} bottom={1152} />
        <Wave xs={gridTime} ys={gridVoltage} top={875.8} bottom={1152} domain={[-400, 400]} color={BLUE} curve={smooth} />
      </TimePlot>
      <XTicks y={1198} title="Time (s)" titleX={1777} titleY={1239} />
      <Fault spans={[[84, 408], [466, 798], [864, 1150]]} />
      <Caption y={1358} tag="a" idx="1" rest={'failure: unable O\u2212 state'} />

      {/* (a) vector trajectory */}
      <VectorPlot left={2595.5} right={3662} top={92.8} bottom={1150.9} xs={vectorXA} ys={vectorYA} bundles={[[bundleXA1, bundleYA1], [bundleXA2, bundleYA2]]} legendY={37} labelY={1204.7} nudge={[0, 0]} />

      {/* (b) time plots */}
      <Squares xs={[1251]} y={1463.8} h={39} colors={[RED]} />
      <Label x={1311.8} y={1498.5} w={436}>Phase current <tspan fontStyle="italic">i</tspan>{sub('a')}{' [A]'}</Label>
      <TimePlot top={1517.9} bottom={1814.3} domain={[-30, 30]} ticks={currentTicks} inset={[2.5, -10]} edge="#c4c4c4">
        <FaultArrow top={1517.9} bottom={1814.3} tail={[0.1677, 21.5]} tip={[0.1501, 8.5]} />
        <Wave xs={phaseTimeB} ys={phaseCurrentB} top={1517.9} bottom={1814.3} domain={[-30, 30]} color={RED} />
      </TimePlot>
      <Label x={1829} y={1563} w={415}>Open-switch fault</Label>

      <Squares xs={[1251, 1303]} y={1846.4} h={39.8} colors={[RED, BLUE]} />
      <Label x={1361} y={1882.7} w={556}>dq-axis current <tspan fontStyle="italic">i</tspan>{sub('ds')}, <tspan fontStyle="italic">i</tspan>{sub('qs')}{' [A]'}</Label>
      <TimePlot top={1909.2} bottom={2204.6} domain={[-30, 30]} ticks={currentTicks} inset={[7, -8]} edge="#999">
        <Wave xs={phaseTimeB} ys={phaseCurrentB} top={1909.2} bottom={2204.6} domain={[-30, 30]} color={RED} />
        <Wave xs={iqTimeB} ys={iqCurrentB} top={1909.2} bottom={2204.6} domain={[-30, 30]} color={BLUE} curve={smooth} />
      </TimePlot>

      <Squares xs={[1251, 1785]} y={2237} h={41} colors={[RED, BLUE]} />
      <Label x={1311.8} y={2273} w={458}>Pole voltage <tspan fontStyle="italic">V</tspan>{sub('an')}{' [V],'}</Label>
      <Label x={1845} y={2273} w={442}>Grid voltage <tspan fontStyle="italic">V</tspan>{sub('as')}{' [V]'}</Label>
      <TimePlot top={2301.2} bottom={2577.5} domain={[-400, 400]} ticks={voltageTicks} inset={[-9, 4]} edge="#888">
        <PoleBand xs={poleTimeB} hi={poleHighB} lo={poleLowB} top={2301.2} bottom={2577.5} />
        <Wave xs={gridTime} ys={gridVoltage} top={2301.2} bottom={2577.5} domain={[-400, 400]} color={BLUE} curve={smooth} />
      </TimePlot>
      <XTicks y={2626} title="Time (s)" titleX={1774} titleY={2666} />
      <Fault spans={[[1510, 1835], [1892, 2224], [2292, 2578]]} />
      <Caption y={2785} tag="b" idx="2" rest="failure: unable O+ state" />

      {/* (b) vector trajectory */}
      <VectorPlot left={2590.8} right={3656.5} top={1517.2} bottom={2576.1} xs={vectorXB} ys={vectorYB} bundles={[[bundleXB1, bundleYB1], [bundleXB2, bundleYB2]]} legendY={1464} labelY={2634} nudge={[4.7, 4]} />
    </svg>
  )
}
